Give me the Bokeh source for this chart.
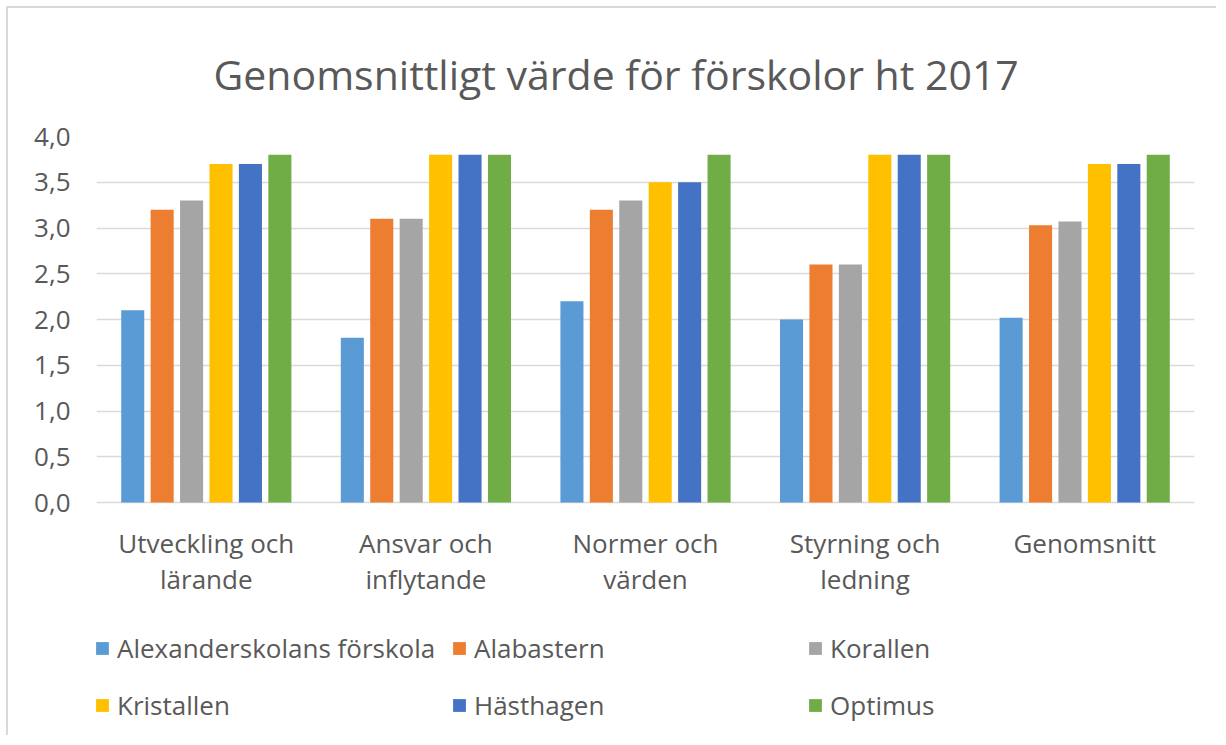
from bokeh.plotting import figure
from bokeh.models import (FactorRange, Range1d, FixedTicker, CustomJSTickFormatter, Legend,
                          LegendItem, ColumnDataSource)
from bokeh.core.properties import value
from bokeh.transform import dodge
from bokeh.embed import file_html
from bokeh.resources import INLINE

categories = ["Utveckling och lärande", "Ansvar och inflytande", "Normer och värden",
              "Styrning och ledning", "Genomsnitt"]
category_labels = ["Utveckling och\nlärande", "Ansvar och\ninflytande", "Normer och\nvärden",
                   "Styrning och\nledning", "Genomsnitt"]
series_names = ["Alexanderskolans förskola", "Alabastern", "Korallen",
                "Kristallen", "Hästhagen", "Optimus"]
alexanderskolans = [2.1, 1.8, 2.2, 2.0, 2.02]
alabastern = [3.2, 3.1, 3.2, 2.6, 3.03]
korallen = [3.3, 3.1, 3.3, 2.6, 3.07]
kristallen = [3.7, 3.8, 3.5, 3.8, 3.7]
hasthagen = [3.7, 3.8, 3.5, 3.8, 3.7]
optimus = [3.8, 3.8, 3.8, 3.8, 3.8]
y_ticks = [0, 0.5, 1.0, 1.5, 2.0, 2.5, 3.0, 3.5, 4.0]

colors = ["#5B9BD5", "#ED7D31", "#A5A5A5", "#FFC000", "#4472C4", "#70AD47"]
keys = ["s0", "s1", "s2", "s3", "s4", "s5"]
values = [alexanderskolans, alabastern, korallen, kristallen, hasthagen, optimus]

data = {"cat": categories, "lab": category_labels}
for k, v in zip(keys, values):
    data[k] = v
src = ColumnDataSource(data)

FONT = "Open Sans"
TXT = "#595959"

# layout (pixels): frame spans 128..729 vertically; value axis 0..4 occupies top 366 px
H, TOP = 729, 128
AXIS_PX = 366
y_lo = -4.0 * ((H - TOP) - AXIS_PX) / AXIS_PX

p = figure(x_range=FactorRange(*categories, range_padding=0), y_range=Range1d(y_lo, 4),
           width=1210, height=H, output_backend="svg", toolbar_location=None,
           x_axis_location=None,
           min_border_left=88, min_border_right=24, min_border_top=TOP, min_border_bottom=0)
p.styles = {"border-left": "2px solid #d9d9d9", "border-top": "2px solid #d9d9d9",
            "margin-left": "6px", "margin-top": "6px"}

p.title.text = "Genomsnittligt värde för förskolor ht 2017"
p.title.align = "left"
p.title.offset = 117
p.title.text_font = FONT
p.title.text_font_size = "41px"
p.title.text_font_style = "normal"
p.title.text_color = TXT
p.title.standoff = 69

renderers = []
for i, (k, c) in enumerate(zip(keys, colors)):
    r = p.vbar(x=dodge("cat", (i - 2.5) * 0.134, range=p.x_range), top=k, width=0.105,
               source=src, fill_color=c, line_color=None)
    renderers.append(r)

# category labels under the bars
p.text(x="cat", y=-0.25, text="lab", source=src, text_align="center",
       text_baseline="top", text_font=value(FONT), text_font_size="26px",
       text_color=TXT, text_line_height=1.0)

p.outline_line_color = None
p.xgrid.grid_line_color = None
p.ygrid.grid_line_color = "#d9d9d9"
p.ygrid.grid_line_width = 1.5
p.yaxis.ticker = FixedTicker(ticks=y_ticks)
p.yaxis.formatter = CustomJSTickFormatter(code="return tick.toFixed(1).replace('.', ',');")
p.yaxis.axis_line_color = None
p.yaxis.major_tick_line_color = None
p.yaxis.minor_tick_line_color = None
p.yaxis.major_label_text_font = FONT
p.yaxis.major_label_text_font_size = "26px"
p.yaxis.major_label_text_color = TXT
p.yaxis.major_label_standoff = 20

cols_x = [-2, 355, 711]
for col in range(3):
    items = [LegendItem(label=series_names[row * 3 + col],
                        renderers=[renderers[row * 3 + col]]) for row in range(2)]
    leg = Legend(items=items, location=(cols_x[col], 9), orientation="vertical",
                 padding=0, margin=0, spacing=10, glyph_width=16, glyph_height=16,
                 label_height=47, label_standoff=7, border_line_color=None,
                 background_fill_alpha=0, label_text_font=FONT,
                 label_text_font_size="26px", label_text_color=TXT)
    p.add_layout(leg, "center")

open("out.html", "w").write(file_html(p, INLINE))
